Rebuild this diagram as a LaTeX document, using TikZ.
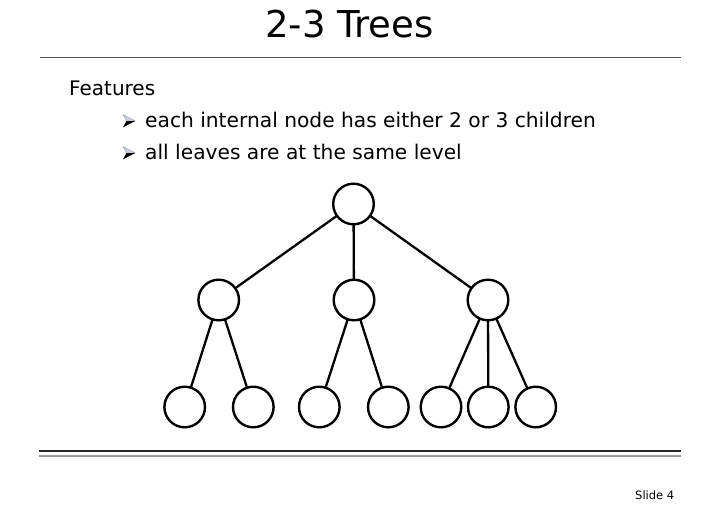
\documentclass[tikz,border=0pt]{standalone}
\usepackage{fontspec}
\setmainfont{DejaVu Sans}
\definecolor{rulegray}{HTML}{555555}
\definecolor{lightrule}{HTML}{999999}
\definecolor{bulletlight}{HTML}{C8D0E0}
\begin{document}
\begin{tikzpicture}[x=1pt,y=-1pt,
  treenode/.style={circle,draw=black,line width=2.4pt,minimum size=40.6pt,inner sep=0pt,fill=white},
  treeedge/.style={line width=2.3pt,black},
  bullettext/.style={anchor=base west,inner sep=0pt,font=\fontsize{20.2}{24}\selectfont},
  arrowbullet/.pic={
    \fill[bulletlight,draw=gray!70,line width=0.4pt] (12.3,0) -- (0,-6.5) -- (3.5,0) -- cycle;
    \fill[black] (12.3,0) -- (3.5,0) -- (0,6.3) -- cycle;
  }]
\useasboundingbox (0,0) rectangle (723,512);
\fill[white] (0,0) rectangle (723,512);
% title
\node[anchor=base,inner sep=0pt,font=\fontsize{37}{42}\selectfont] (title) at (349.5,37) {2-3 Trees};
\draw[rulegray,line width=1pt] (40,57.5) -- (681,57.5);
% features
\node[anchor=base west,inner sep=0pt,font=\fontsize{20}{24}\selectfont] (feat) at (69,95) {Features};
\pic at (123,121) {arrowbullet};
\node[bullettext] (b1) at (145,127.5) {each internal node has either 2 or 3 children};
\pic at (123,153) {arrowbullet};
\node[bullettext] (b2) at (145,159.5) {all leaves are at the same level};
% tree
\coordinate (rootc) at (353.5,204);
\coordinate (m1c) at (218.7,300);
\coordinate (m2c) at (354,300);
\coordinate (m3c) at (488,300);
\draw[treeedge] (rootc) -- (m1c);
\draw[treeedge] (rootc) -- (m2c);
\draw[treeedge] (rootc) -- (m3c);
\coordinate (l1c) at (184.7,407);
\coordinate (l2c) at (253.3,407);
\coordinate (l3c) at (319.3,407);
\coordinate (l4c) at (388.3,407);
\coordinate (l5c) at (441,407);
\coordinate (l6c) at (488.3,407);
\coordinate (l7c) at (535.7,407);
\draw[treeedge] (m1c) -- (l1c);
\draw[treeedge] (m1c) -- (l2c);
\draw[treeedge] (m2c) -- (l3c);
\draw[treeedge] (m2c) -- (l4c);
\draw[treeedge] (m3c) -- (l5c);
\draw[treeedge] (m3c) -- (l6c);
\draw[treeedge] (m3c) -- (l7c);
\node[treenode] (root) at (rootc) {};
\node[treenode] (m1) at (m1c) {};
\node[treenode] (m2) at (m2c) {};
\node[treenode] (m3) at (m3c) {};
\node[treenode] (l1) at (l1c) {};
\node[treenode] (l2) at (l2c) {};
\node[treenode] (l3) at (l3c) {};
\node[treenode] (l4) at (l4c) {};
\node[treenode] (l5) at (l5c) {};
\node[treenode] (l6) at (l6c) {};
\node[treenode] (l7) at (l7c) {};
% bottom rules
\draw[black!85,line width=2pt] (39,451) -- (681,451);
\draw[lightrule,line width=1.5pt] (39,456) -- (681,456);
\node[anchor=base west,inner sep=0pt,font=\fontsize{11.5}{14}\selectfont] (slide) at (635,499.3) {Slide 4};
\end{tikzpicture}
\end{document}
